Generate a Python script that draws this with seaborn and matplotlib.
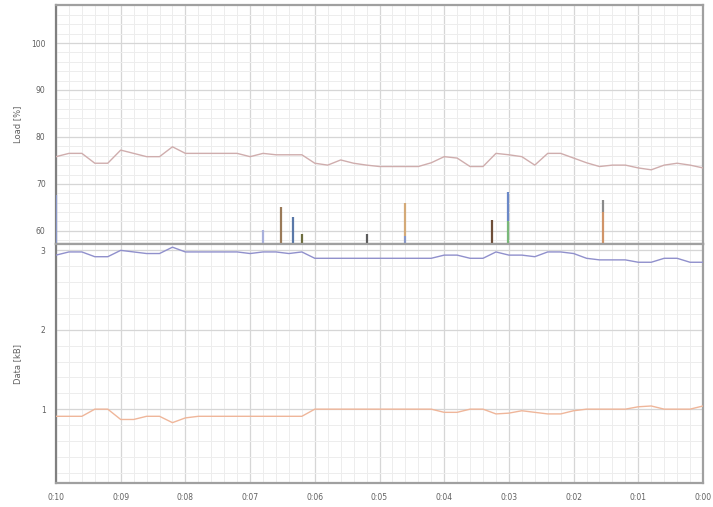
import numpy as np
import pandas as pd
import matplotlib
matplotlib.use("Agg")
import matplotlib.pyplot as plt
from matplotlib.ticker import MultipleLocator, FixedLocator
import seaborn as sns

# Sample times, seconds before now (12 s steps from 10:00 down to 0:00)
seconds_ago = list(range(600, -1, -12))

load_pct = [75.8, 76.5, 76.5, 74.4, 74.4, 77.2, 76.5, 75.8, 75.8, 77.9,
            76.5, 76.5, 76.5, 76.5, 76.5, 75.8, 76.5, 76.2, 76.2, 76.2,
            74.4, 74.0, 75.1, 74.4, 74.0, 73.7, 73.7, 73.7, 73.7, 74.5,
            75.8, 75.5, 73.7, 73.7, 76.5, 76.2, 75.8, 74.0, 76.5, 76.5,
            75.5, 74.5, 73.7, 74.0, 74.0, 73.4, 73.0, 74.0, 74.4, 74.0,
            73.4]

data_in_kb = [2.94, 2.98, 2.98, 2.92, 2.92, 3.00, 2.98, 2.96, 2.96, 3.04,
              2.98, 2.98, 2.98, 2.98, 2.98, 2.96, 2.98, 2.98, 2.96, 2.98,
              2.90, 2.90, 2.90, 2.90, 2.90, 2.90, 2.90, 2.90, 2.90, 2.90,
              2.94, 2.94, 2.90, 2.90, 2.98, 2.94, 2.94, 2.92, 2.98, 2.98,
              2.96, 2.90, 2.88, 2.88, 2.88, 2.85, 2.85, 2.90, 2.90, 2.85,
              2.85]

data_out_kb = [0.91, 0.91, 0.91, 1.00, 1.00, 0.87, 0.87, 0.91, 0.91, 0.83,
               0.89, 0.91, 0.91, 0.91, 0.91, 0.91, 0.91, 0.91, 0.91, 0.91,
               1.00, 1.00, 1.00, 1.00, 1.00, 1.00, 1.00, 1.00, 1.00, 1.00,
               0.96, 0.96, 1.00, 1.00, 0.94, 0.95, 0.98, 0.96, 0.94, 0.94,
               0.98, 1.00, 1.00, 1.00, 1.00, 1.03, 1.04, 1.00, 1.00, 1.00,
               1.04]

# Short process bursts on the load panel: time, top of lower part, top of whole spike
spike_sec = [600, 408, 391, 380, 372, 312, 276, 196, 181, 93]
spike_lower = [67.7, 60.2, 65.1, 63.0, 59.4, 59.4, 59.0, 62.3, 62.0, 64.0]
spike_upper = [67.7, 60.2, 65.1, 63.0, 59.4, 59.4, 66.0, 62.3, 68.3, 66.6]

tick_sec = list(range(600, -1, -60))
tick_labels = ["0:10", "0:09", "0:08", "0:07", "0:06", "0:05",
               "0:04", "0:03", "0:02", "0:01", "0:00"]

lower_colors = ["#8a98c8", "#a8b0dc", "#9a7a58", "#5a78a8", "#6e6e40", "#5c5c5c",
                "#8898c8", "#6e4e38", "#78b878", "#d09468"]
upper_colors = ["#8a98c8", "#a8b0dc", "#9a7a58", "#5a78a8", "#6e6e40", "#5c5c5c",
                "#d4aa78", "#6e4e38", "#6a88c8", "#8a8a8a"]

sns.set_style("white")
plt.rcParams["font.family"] = ["DejaVu Sans"]

fig = plt.figure(figsize=(7.13, 5.07), dpi=100)
ax_top = fig.add_axes([56 / 713, 1 - 244 / 507, 647 / 713, 239 / 507])
ax_bot = fig.add_axes([56 / 713, 1 - 483 / 507, 647 / 713, 239 / 507], sharex=ax_top)

load_df = pd.DataFrame({"sec": seconds_ago, "load": load_pct})
data_df = pd.DataFrame({"sec": seconds_ago, "in": data_in_kb, "out": data_out_kb})

y0 = 57.2
for s, lo, hi, c1, c2 in zip(spike_sec, spike_lower, spike_upper, lower_colors, upper_colors):
    ax_top.vlines(s, y0, lo, color=c1, lw=1.6, zorder=3)
    if hi > lo:
        ax_top.vlines(s, lo, hi, color=c2, lw=1.6, zorder=3)

sns.lineplot(data=load_df, x="sec", y="load", ax=ax_top, color="#cfadad", lw=1.0, zorder=4)
sns.lineplot(data=data_df, x="sec", y="in", ax=ax_bot, color="#9090cc", lw=1.0, zorder=4)
sns.lineplot(data=data_df, x="sec", y="out", ax=ax_bot, color="#efb69a", lw=1.0, zorder=4)

ax_top.set_ylim(y0, 108.1)
ax_bot.set_ylim(0.07, 3.08)
ax_top.set_xlim(600, 0)

for ax in (ax_top, ax_bot):
    ax.xaxis.set_major_locator(FixedLocator(tick_sec))
    ax.xaxis.set_minor_locator(MultipleLocator(12))
    ax.grid(which="major", color="#d6d6d6", lw=0.9, zorder=0)
    ax.grid(which="minor", color="#ededed", lw=0.7, zorder=0)
    ax.set_axisbelow(True)
    for side, sp in ax.spines.items():
        sp.set_visible(True)
        sp.set_color("#a0a0a0")
        sp.set_linewidth(1.6)
    ax.spines["left"].set_color("#808080")
    ax.tick_params(which="both", direction="out", colors="#707070", labelsize=5.5,
                   labelcolor="#606060", width=0.8)
    ax.tick_params(which="major", length=4)
    ax.tick_params(which="minor", length=2.5)
    ax.set_xlabel("")

ax_top.yaxis.set_major_locator(MultipleLocator(10))
ax_top.yaxis.set_minor_locator(MultipleLocator(2))
ax_bot.yaxis.set_major_locator(MultipleLocator(1))
ax_bot.yaxis.set_minor_locator(MultipleLocator(0.2))

ax_top.tick_params(axis="x", which="both", labelbottom=False, length=0)
ax_bot.set_xticklabels(tick_labels)

ax_top.set_ylabel("Load [%]", fontsize=6, color="#606060")
ax_bot.set_ylabel("Data [kB]", fontsize=6, color="#606060")
ax_top.yaxis.set_label_coords(-0.052, 0.5)
ax_bot.yaxis.set_label_coords(-0.052, 0.5)

fig.savefig("out.png", dpi=100)
